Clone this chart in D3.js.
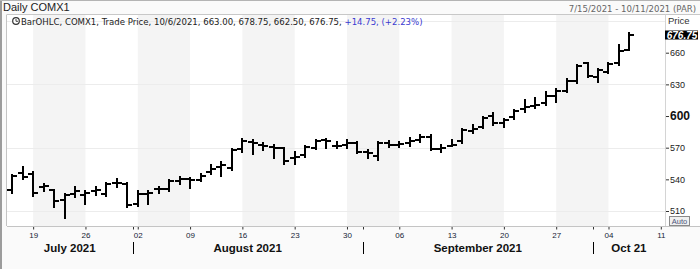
<!DOCTYPE html>
<html>
<head>
<meta charset="utf-8">
<script src="https://cdn.jsdelivr.net/npm/d3@7"></script>
<style>
  body { margin: 0; background: #fafafa; }
  svg { display: block; }
</style>
</head>
<body>
<div id="chart-area"></div>
<script>
//============================DATA============================
// one entry per trading day (daily OHLC)
var barDates = [
  "2021-07-15","2021-07-16","2021-07-19","2021-07-20","2021-07-21","2021-07-22","2021-07-23",
  "2021-07-26","2021-07-27","2021-07-28","2021-07-29","2021-07-30",
  "2021-08-02","2021-08-03","2021-08-04","2021-08-05","2021-08-06",
  "2021-08-09","2021-08-10","2021-08-11","2021-08-12","2021-08-13",
  "2021-08-16","2021-08-17","2021-08-18","2021-08-19","2021-08-20",
  "2021-08-23","2021-08-24","2021-08-25","2021-08-26","2021-08-27",
  "2021-08-30","2021-08-31","2021-09-01","2021-09-02","2021-09-03",
  "2021-09-06","2021-09-07","2021-09-08","2021-09-09","2021-09-10",
  "2021-09-13","2021-09-14","2021-09-15","2021-09-16","2021-09-17",
  "2021-09-20","2021-09-21","2021-09-22","2021-09-23","2021-09-24",
  "2021-09-27","2021-09-28","2021-09-29","2021-09-30","2021-10-01",
  "2021-10-04","2021-10-05","2021-10-06"
];
var opens = [
  530, 546, 545, 533, 530, 520, 526, 525, 528.5, 526.5, 537, 535.5,
  517, 526, 530.5, 531, 538.5, 540, 539.5, 547, 552, 550.5, 568.5, 575.5, 572.5, 570.5, 569.5, 560, 563, 570, 577, 572, 573, 574,
  565.5, 562, 574, 573, 574, 577, 580, 569, 572, 576, 586, 590, 600, 593, 599, 607, 609.5, 612, 619, 623.5, 633, 650,
  637, 641.5, 650, 663
];
var highs = [
  544, 552, 546.5, 536, 530, 526.5, 532.5, 528.5, 532.5, 537, 540.5, 536.5,
  528.5, 528.5, 533, 539, 542, 541, 545.5, 553.5, 556.5, 568.5, 578, 577.5, 574, 572.5, 570, 566, 572, 577.5, 578, 575, 577, 575,
  568, 575, 576, 575.5, 579, 582, 582, 572.5, 577, 588, 591.5, 599.5, 602.5, 597.5, 606, 615, 617, 623, 626, 635.5, 648.5, 650.5,
  645, 650.5, 667, 678.75
];
var lows = [
  527.5, 540.5, 524, 529, 514, 503, 523.5, 516.5, 525, 524, 532.5, 513.5,
  514.5, 516.5, 527.5, 529, 536, 531.5, 538, 545.5, 543, 549, 566, 564, 568, 560, 554.5, 554.5, 561, 568.5, 570, 569.5, 570, 564.5,
  560, 558.5, 570.5, 571, 571.5, 575.5, 567.5, 566, 571.5, 574, 584, 589, 591.5, 589.5, 597.5, 604, 608, 610.5, 613.5, 623, 631, 637,
  632.5, 640.5, 648.5, 662.5
];
var closes = [
  543.5, 542, 527, 534, 519.5, 525.5, 528.5, 527, 529.5, 536, 536.5, 516,
  526.5, 527.5, 531, 538.5, 540, 539, 543, 549.5, 553.5, 567.5, 576.5, 574, 571.5, 569.5, 557, 561.5, 571, 576.5, 576, 571.5, 574, 566,
  564.5, 574, 572.5, 573.5, 576, 580.5, 568.5, 569.5, 573, 587, 588, 598, 593.5, 596.5, 605, 609, 610, 619, 624, 633.5, 647.5, 637.5,
  643.5, 649.5, 662, 676.75
];
// empty slots at the right end of the time axis
var futureDates = ["2021-10-07","2021-10-08","2021-10-11"];

// axis labels
var weekTicks  = ["2021-07-19","2021-07-26","2021-08-02","2021-08-09","2021-08-16","2021-08-23","2021-08-30",
                  "2021-09-06","2021-09-13","2021-09-20","2021-09-27","2021-10-04","2021-10-11"];
var weekLabels = ["19","26","02","09","16","23","30","06","13","20","27","04","11"];
var monthStarts = ["2021-08-02","2021-09-01","2021-10-01"];
var monthLabels = ["July 2021","August 2021","September 2021","Oct 21"];
var priceTicks = [510, 540, 570, 600, 630, 660];
var gridValues = [510, 570, 630, 690];

//============================LAYOUT============================
var W = 700, H = 269;
var plot = { left: 7, right: 665, top: 14.5, bottom: 226 };

var svg = d3.select("#chart-area")
  .append("svg")
  .attr("width", W)
  .attr("height", H)
  .style("font-family", "'Liberation Sans', Arial, sans-serif");

// outer background + frame
svg.append("rect").attr("width", W).attr("height", H).attr("fill", "#fafafa");
svg.append("rect").attr("x", 0).attr("y", 0).attr("width", 2).attr("height", H).attr("fill", "#9c9c9c");
svg.append("line").attr("x1", 0).attr("x2", W).attr("y1", 0.5).attr("y2", 0.5).attr("stroke", "#b4b4b4");

// plot + right axis panel are white
svg.append("rect")
  .attr("x", plot.left).attr("y", plot.top)
  .attr("width", W - plot.left).attr("height", plot.bottom - plot.top)
  .attr("fill", "#fff");

//============================SCALES============================
var slots = barDates.concat(futureDates);
var x = d3.scalePoint()
  .domain(slots)
  .range([12.23, 660.8]);
var step = x.step();

var y = d3.scaleLinear()
  .domain([510, 660])
  .range([211, 52.7]);

// alternating weekly bands
var bandPairs = [];
for (var i = 0; i + 1 < weekTicks.length; i += 2) bandPairs.push([weekTicks[i], weekTicks[i + 1]]);
svg.append("g").selectAll("rect")
  .data(bandPairs)
  .enter().append("rect")
  .attr("x", function(d){ return x(d[0]); })
  .attr("width", function(d){ return x(d[1]) - x(d[0]); })
  .attr("y", plot.top + 0.5)
  .attr("height", plot.bottom - plot.top - 0.5)
  .attr("fill", "#f4f4f4");

// horizontal grid
svg.append("g").selectAll("line")
  .data(gridValues)
  .enter().append("line")
  .attr("x1", plot.left).attr("x2", plot.right)
  .attr("y1", function(d){ return Math.round(y(d)) + 0.5; })
  .attr("y2", function(d){ return Math.round(y(d)) + 0.5; })
  .attr("stroke", "#ececec");

// plot borders
svg.append("line").attr("x1", plot.left).attr("x2", W).attr("y1", plot.top).attr("y2", plot.top).attr("stroke", "#c8c8c8");
svg.append("line").attr("x1", plot.left - 0.5).attr("x2", plot.left - 0.5).attr("y1", plot.top).attr("y2", plot.bottom).attr("stroke", "#c4c4c4");
svg.append("line").attr("x1", plot.left).attr("x2", W).attr("y1", plot.bottom + 0.5).attr("y2", plot.bottom + 0.5).attr("stroke", "#c4c4c4");
svg.append("line").attr("x1", plot.right + 0.5).attr("x2", plot.right + 0.5).attr("y1", plot.top).attr("y2", plot.bottom).attr("stroke", "#d4d4d4");

//============================OHLC BARS============================
var bars = barDates.map(function(d, i){
  return { date: d, o: opens[i], h: highs[i], l: lows[i], c: closes[i] };
});

var barG = svg.append("g")
  .attr("stroke", "#000")
  .attr("stroke-width", 2)
  .selectAll("g")
  .data(bars)
  .enter().append("g");

barG.append("line")
  .attr("x1", function(d){ return Math.round(x(d.date)); })
  .attr("x2", function(d){ return Math.round(x(d.date)); })
  .attr("y1", function(d){ return Math.round(y(d.h)) - 1; })
  .attr("y2", function(d){ return Math.round(y(d.l)) + 1; });
barG.append("line")
  .attr("x1", function(d){ return Math.round(x(d.date)) - 5; })
  .attr("x2", function(d){ return Math.round(x(d.date)); })
  .attr("y1", function(d){ return Math.round(y(d.o)); })
  .attr("y2", function(d){ return Math.round(y(d.o)); });
barG.append("line")
  .attr("x1", function(d){ return Math.round(x(d.date)); })
  .attr("x2", function(d){ return Math.round(x(d.date)) + 5; })
  .attr("y1", function(d){ return Math.round(y(d.c)); })
  .attr("y2", function(d){ return Math.round(y(d.c)); });

//============================RIGHT AXIS============================
var yAxis = svg.append("g")
  .attr("transform", "translate(" + (plot.right + 1) + ",0)")
  .call(d3.axisRight(y).tickValues(priceTicks).tickSize(3).tickPadding(1).tickFormat(d3.format("d")));
yAxis.select(".domain").remove();
yAxis.selectAll(".tick line").attr("stroke", "#333");
yAxis.selectAll(".tick text")
  .attr("fill", "#222")
  .style("font-size", "9px")
  .style("font-family", "'Liberation Sans', Arial, sans-serif");
yAxis.selectAll(".tick text")
  .filter(function(d){ return d === 600; })
  .style("font-size", "12px")
  .style("font-weight", "bold")
  .attr("fill", "#111");

svg.append("text")
  .attr("x", 668).attr("y", 24)
  .attr("font-size", "9.5px")
  .attr("fill", "#333")
  .text("Price");

// last price marker
var last = bars[bars.length - 1];
svg.append("rect")
  .attr("x", plot.right).attr("y", Math.round(y(last.c)) - 4.5)
  .attr("width", W - plot.right - 2).attr("height", 9)
  .attr("fill", "#000");
svg.append("text")
  .attr("x", 682).attr("y", Math.round(y(last.c)) + 3.8)
  .attr("text-anchor", "middle")
  .attr("font-size", "10px")
  .attr("font-weight", "bold")
  .attr("font-style", "italic")
  .attr("fill", "#fff")
  .text(d3.format(".2f")(last.c));

// "Auto" button
svg.append("rect")
  .attr("x", 669.5).attr("y", 216.5).attr("width", 20).attr("height", 9)
  .attr("fill", "#f0f0f0").attr("stroke", "#8a8a8a");
svg.append("text")
  .attr("x", 679.5).attr("y", 224)
  .attr("text-anchor", "middle")
  .attr("font-size", "7.5px")
  .attr("fill", "#4a5578")
  .text("Auto");

//============================BOTTOM AXIS============================
var xAxis = svg.append("g")
  .attr("transform", "translate(0," + (plot.bottom + 1) + ")")
  .call(d3.axisBottom(x).tickValues(weekTicks).tickSize(2.5).tickPadding(3)
    .tickFormat(function(d, i){ return weekLabels[i]; }));
xAxis.select(".domain").remove();
xAxis.selectAll(".tick line").attr("stroke", "#333");
xAxis.selectAll(".tick text")
  .attr("fill", "#161c36")
  .style("font-size", "8px")
  .style("font-family", "'Liberation Sans', Arial, sans-serif");

// month boundaries
var monthEdges = [plot.left].concat(monthStarts.map(function(d){ return x(d) - step / 2; })).concat([plot.right]);
svg.append("g").selectAll("line")
  .data(monthStarts)
  .enter().append("line")
  .attr("x1", function(d){ return Math.round(x(d) - step / 2) + 0.5; })
  .attr("x2", function(d){ return Math.round(x(d) - step / 2) + 0.5; })
  .attr("y1", 242).attr("y2", 254)
  .attr("stroke", "#000");
svg.append("g").selectAll("line")
  .data(monthStarts)
  .enter().append("line")
  .attr("x1", function(d){ return Math.round(x(d) - step / 2) + 0.5; })
  .attr("x2", function(d){ return Math.round(x(d) - step / 2) + 0.5; })
  .attr("y1", 227).attr("y2", 229.5)
  .attr("stroke", "#333");

svg.append("g").selectAll("text")
  .data(monthLabels)
  .enter().append("text")
  .attr("x", function(d, i){ return (monthEdges[i] + monthEdges[i + 1]) / 2; })
  .attr("y", 252)
  .attr("text-anchor", "middle")
  .attr("font-size", "11.5px")
  .attr("font-weight", "bold")
  .attr("fill", "#111")
  .text(function(d){ return d; });

//============================HEADER============================
svg.append("text")
  .attr("x", 3).attr("y", 11)
  .attr("font-size", "11px")
  .attr("fill", "#222")
  .text("Daily COMX1");

svg.append("text")
  .attr("x", 696).attr("y", 11.5)
  .attr("text-anchor", "end")
  .attr("font-size", "9.5px")
  .attr("fill", "#666")
  .style("font-family", "'Liberation Sans Narrow', 'DejaVu Sans Condensed', sans-serif")
  .text("7/15/2021 - 10/11/2021 (PAR)");

// legend: clock icon + values of the last bar
svg.append("circle").attr("cx", 16).attr("cy", 21).attr("r", 3.3)
  .attr("fill", "#fff").attr("stroke", "#333").attr("stroke-width", 1.2);
svg.append("path").attr("d", "M16,19 V21.3 H18").attr("fill", "none").attr("stroke", "#333").attr("stroke-width", 0.9);

var prev = bars[bars.length - 2];
var chg = last.c - prev.c;
var fmt2 = d3.format(".2f");
var legend = svg.append("text")
  .attr("x", 21).attr("y", 25)
  .attr("font-size", "9.5px")
  .style("font-family", "'Liberation Sans Narrow', 'DejaVu Sans Condensed', sans-serif");
legend.append("tspan").attr("fill", "#222")
  .text("BarOHLC, COMX1, Trade Price, 10/6/2021, " + fmt2(last.o) + ", " + fmt2(last.h) + ", " +
        fmt2(last.l) + ", " + fmt2(last.c) + ", ");
legend.append("tspan").attr("fill", "#3a3ad0")
  .text("+" + fmt2(chg) + ", (+" + fmt2(chg / prev.c * 100) + "%)");
</script>
</body>
</html>
